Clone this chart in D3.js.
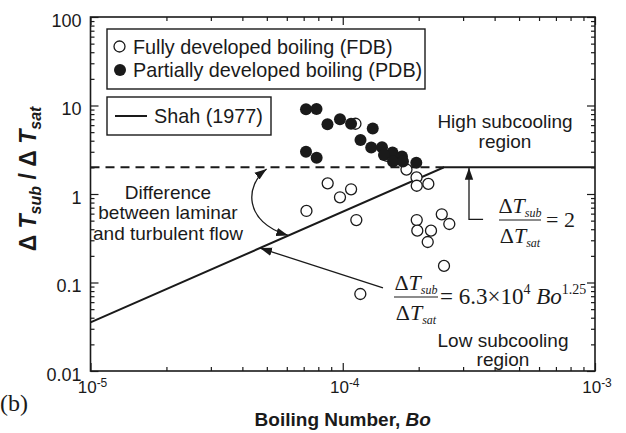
<!DOCTYPE html>
<html>
<head>
<meta charset="utf-8">
<script src="https://cdn.jsdelivr.net/npm/d3@7"></script>
<style>
  body { margin: 0; background: #fff; }
  svg { display: block; font-family: "Liberation Sans", Arial, sans-serif; }
</style>
</head>
<body>
<div id="chart"></div>
<script>
// data
var fdbBo    = [1.123e-4, 1.499e-4, 1.656e-4, 1.789e-4, 1.961e-4, 1.965e-4, 2.184e-4, 8.715e-5, 1.079e-4, 9.75e-5,
                7.18e-5, 1.132e-4, 1.965e-4, 2.469e-4, 2.645e-4, 1.975e-4, 2.238e-4, 2.172e-4, 2.52e-4, 1.174e-4];
var fdbRatio = [6.22, 2.69, 2.53, 1.89, 1.54, 1.24, 1.30, 1.32, 1.13, 0.918,
                0.643, 0.508, 0.508, 0.59, 0.458, 0.385, 0.385, 0.287, 0.154, 0.0741];

var pdbBo    = [7.15e-5, 7.87e-5, 8.7e-5, 9.75e-5, 1.079e-4, 1.315e-4, 1.176e-4, 1.297e-4, 1.431e-4,
                1.575e-4, 1.717e-4, 1.957e-4, 7.15e-5, 7.88e-5, 1.457e-4, 1.582e-4, 1.733e-4];
var pdbRatio = [9.06, 9.13, 6.13, 7.0, 6.21, 5.5, 4.07, 3.35, 3.38,
                2.94, 2.65, 2.26, 3.0, 2.57, 2.76, 2.33, 2.33];

// Shah (1977) correlation, end points of its straight pieces
var shahBo    = [1e-5, 2.52e-4, 1e-3];
var shahRatio = [0.0354, 2, 2];
var laminarBo    = [1e-5, 2.52e-4];
var laminarRatio = [2, 2];

var xMajor = [1e-5, 1e-4, 1e-3];
var xMajorExp = ["-5", "-4", "-3"];
var yMajor = [0.01, 0.1, 1, 10, 100];
var yMajorLabels = ["0.01", "0.1", "1", "10", "100"];

var width = 626, height = 433;
var margin = {top: 17, right: 31, bottom: 62, left: 90.5};

var svg = d3.select("#chart").append("svg")
    .attr("width", width)
    .attr("height", height);

var x = d3.scaleLog().domain([1e-5, 1e-3]).range([margin.left, width - margin.right]);
var y = d3.scaleLog().domain([0.01, 100]).range([height - margin.bottom, margin.top]);

var ink = "#1a1a1a";

// minor ticks 2..9 in each decade
function minors(lo, hi) {
    var out = [];
    for (var e = lo; e < hi; e++) {
        for (var k = 2; k <= 9; k++) out.push(k * Math.pow(10, e));
    }
    return out;
}
var xMinor = minors(-5, -3);
var yMinor = minors(-2, 2);

var x0 = x.range()[0], x1 = x.range()[1], y0 = y.range()[0], y1 = y.range()[1];

// frame axes with inward ticks
function tickAxis(axisFn, scale, vals, size, tx, ty) {
    var g = svg.append("g")
        .attr("transform", `translate(${tx},${ty})`)
        .call(axisFn(scale).tickValues(vals).tickSize(size).tickFormat(""));
    g.select(".domain").remove();
    g.selectAll("line").attr("stroke", ink).attr("stroke-width", 1.2);
    return g;
}
tickAxis(d3.axisBottom, x, xMajor, -8, 0, y0);
tickAxis(d3.axisBottom, x, xMinor, -4, 0, y0);
tickAxis(d3.axisTop, x, xMajor, -8, 0, y1);
tickAxis(d3.axisTop, x, xMinor, -4, 0, y1);
tickAxis(d3.axisLeft, y, yMajor, -8, x0, 0);
tickAxis(d3.axisLeft, y, yMinor, -4, x0, 0);
tickAxis(d3.axisRight, y, yMajor, -8, x1, 0);
tickAxis(d3.axisRight, y, yMinor, -4, x1, 0);

svg.append("rect")
    .attr("x", x0).attr("y", y1)
    .attr("width", x1 - x0).attr("height", y0 - y1)
    .attr("fill", "none").attr("stroke", ink).attr("stroke-width", 1.6);

// tick labels
svg.append("g").selectAll("text")
    .data(yMajor)
    .enter().append("text")
    .attr("x", x0 - 9)
    .attr("y", d => y(d) + 9.5)
    .attr("text-anchor", "end")
    .attr("font-size", "18px")
    .attr("fill", ink)
    .text((d, i) => yMajorLabels[i]);

var xl = svg.append("g").selectAll("text")
    .data(xMajor)
    .enter().append("text")
    .attr("x", d => x(d) + 2)
    .attr("y", y0 + 22)
    .attr("text-anchor", "middle")
    .attr("font-size", "17px")
    .attr("fill", ink);
xl.append("tspan").text("10");
xl.append("tspan").attr("font-size", "12px").attr("dy", -6).text((d, i) => xMajorExp[i]);

// axis titles
var xt = svg.append("text")
    .attr("x", x(1e-4))
    .attr("y", 426)
    .attr("text-anchor", "middle")
    .attr("font-size", "19px")
    .attr("font-weight", "bold")
    .attr("fill", ink);
xt.append("tspan").text("Boiling Number, ");
xt.append("tspan").attr("font-style", "italic").text("Bo");

var yt = svg.append("text")
    .attr("transform", "translate(36,179) rotate(-90)")
    .attr("text-anchor", "middle")
    .attr("font-size", "23px")
    .attr("font-weight", "bold")
    .attr("fill", ink);
yt.append("tspan").text("\u0394 ");
yt.append("tspan").attr("font-style", "italic").text("T");
yt.append("tspan").attr("font-style", "italic").attr("font-size", "16px").attr("dy", 5).text("sub");
yt.append("tspan").attr("dy", -5).text(" / \u0394 ");
yt.append("tspan").attr("font-style", "italic").text("T");
yt.append("tspan").attr("font-style", "italic").attr("font-size", "16px").attr("dy", 5).text("sat");

svg.append("text")
    .attr("x", 0).attr("y", 411)
    .attr("font-family", "'Liberation Serif', 'Times New Roman', serif")
    .attr("font-size", "24px")
    .attr("fill", ink)
    .text("(b)");

// Shah lines
var line = d3.line().x(d => x(d[0])).y(d => y(d[1]));
svg.append("path")
    .datum(laminarBo.map((b, i) => [b, laminarRatio[i]]))
    .attr("d", line)
    .attr("fill", "none").attr("stroke", ink).attr("stroke-width", 2)
    .attr("stroke-dasharray", "9,6");
svg.append("path")
    .datum(shahBo.map((b, i) => [b, shahRatio[i]]))
    .attr("d", line)
    .attr("fill", "none").attr("stroke", ink).attr("stroke-width", 2);

// arrowheads
var defs = svg.append("defs");
defs.append("marker")
    .attr("id", "arrow")
    .attr("viewBox", "0 0 10 10")
    .attr("refX", 10).attr("refY", 5)
    .attr("markerWidth", 12).attr("markerHeight", 12)
    .attr("markerUnits", "userSpaceOnUse")
    .attr("orient", "auto-start-reverse")
    .append("path").attr("d", "M0,1.5 L10,5 L0,8.5 Z").attr("fill", ink);

// data points
svg.append("g").selectAll("circle")
    .data(fdbBo.map((b, i) => [b, fdbRatio[i]]))
    .enter().append("circle")
    .attr("cx", d => x(d[0]))
    .attr("cy", d => y(d[1]))
    .attr("r", 5.5)
    .attr("fill", "#fff").attr("stroke", ink).attr("stroke-width", 1.3);

svg.append("g").selectAll("circle")
    .data(pdbBo.map((b, i) => [b, pdbRatio[i]]))
    .enter().append("circle")
    .attr("cx", d => x(d[0]))
    .attr("cy", d => y(d[1]))
    .attr("r", 6)
    .attr("fill", ink);

// legends
svg.append("rect").attr("x", 107).attr("y", 29).attr("width", 318).attr("height", 60)
    .attr("fill", "#fff").attr("stroke", ink).attr("stroke-width", 1.4);
svg.append("circle").attr("cx", 119.5).attr("cy", 46.5).attr("r", 5.5)
    .attr("fill", "#fff").attr("stroke", ink).attr("stroke-width", 1.3);
svg.append("circle").attr("cx", 120).attr("cy", 70).attr("r", 6).attr("fill", ink);
svg.append("text").attr("x", 133).attr("y", 53.5).attr("font-size", "19.8px").attr("fill", ink)
    .text("Fully developed boiling (FDB)");
svg.append("text").attr("x", 133).attr("y", 77).attr("font-size", "19.8px").attr("fill", ink)
    .text("Partially developed boiling (PDB)");

svg.append("rect").attr("x", 107).attr("y", 97).attr("width", 164).attr("height", 38)
    .attr("fill", "#fff").attr("stroke", ink).attr("stroke-width", 1.4);
svg.append("line").attr("x1", 115).attr("x2", 147).attr("y1", 116).attr("y2", 116)
    .attr("stroke", ink).attr("stroke-width", 2);
svg.append("text").attr("x", 154).attr("y", 123).attr("font-size", "19.8px").attr("fill", ink)
    .text("Shah (1977)");

// region and note labels
function lines(cx, baselines, texts) {
    var t = svg.append("text").attr("text-anchor", "middle").attr("font-size", "19px").attr("fill", ink);
    texts.forEach((s, i) => t.append("tspan").attr("x", cx).attr("y", baselines[i]).text(s));
}
lines(505, [128, 147.5], ["High subcooling", "region"]);
lines(503, [347, 366], ["Low subcooling", "region"]);
lines(168, [199, 219, 239.5], ["Difference", "between laminar", "and turbulent flow"]);

// curved double arrow between the two lines
svg.append("path")
    .attr("d", `M${x(4.99e-5)},${y(1.92)} C245,185 243,222 ${x(6.08e-5)},${y(0.34)}`)
    .attr("fill", "none").attr("stroke", ink).attr("stroke-width", 1.3)
    .attr("marker-start", "url(#arrow)").attr("marker-end", "url(#arrow)");

// arrow to the sloped line
svg.append("line")
    .attr("x1", x(1.444e-4)).attr("y1", y(0.0867))
    .attr("x2", x(4.7e-5)).attr("y2", y(0.245))
    .attr("stroke", ink).attr("stroke-width", 1.3)
    .attr("marker-end", "url(#arrow)");

// arrow to the flat line
svg.append("path")
    .attr("d", `M${x(3.6e-4)},${y(0.518)} H${x(3.166e-4)} V${y(1.98)}`)
    .attr("fill", "none").attr("stroke", ink).attr("stroke-width", 1.3)
    .attr("marker-end", "url(#arrow)");

// equations
var serif = "'Liberation Serif', 'Times New Roman', serif";
function frac(cx, barY, barW) {
    var g = svg.append("g").attr("font-family", serif).attr("fill", ink);
    var num = g.append("text").attr("x", cx).attr("y", barY - 7).attr("text-anchor", "middle").attr("font-size", "22px");
    num.append("tspan").text("\u0394");
    num.append("tspan").attr("font-style", "italic").text("T");
    num.append("tspan").attr("font-style", "italic").attr("font-size", "12px").attr("dy", 4).text("sub");
    var den = g.append("text").attr("x", cx).attr("y", barY + 23).attr("text-anchor", "middle").attr("font-size", "22px");
    den.append("tspan").text("\u0394");
    den.append("tspan").attr("font-style", "italic").text("T");
    den.append("tspan").attr("font-style", "italic").attr("font-size", "12px").attr("dy", 4).text("sat");
    g.append("line").attr("x1", cx - barW / 2).attr("x2", cx + barW / 2)
        .attr("y1", barY).attr("y2", barY).attr("stroke", ink).attr("stroke-width", 1.1);
    return g;
}
frac(520, 220, 42);
svg.append("text").attr("x", 546).attr("y", 227).attr("font-family", serif).attr("font-size", "22px")
    .attr("fill", ink).text("= 2");

frac(416, 297, 44);
var eq = svg.append("text").attr("x", 440).attr("y", 304).attr("font-family", serif)
    .attr("font-size", "23px").attr("fill", ink);
eq.append("tspan").text("= 6.3\u00d710");
eq.append("tspan").attr("font-size", "14px").attr("dy", -10).text("4");
eq.append("tspan").attr("dy", 10).attr("font-style", "italic").text(" Bo");
eq.append("tspan").attr("font-size", "14px").attr("dy", -10).text("1.25");
</script>
</body>
</html>
